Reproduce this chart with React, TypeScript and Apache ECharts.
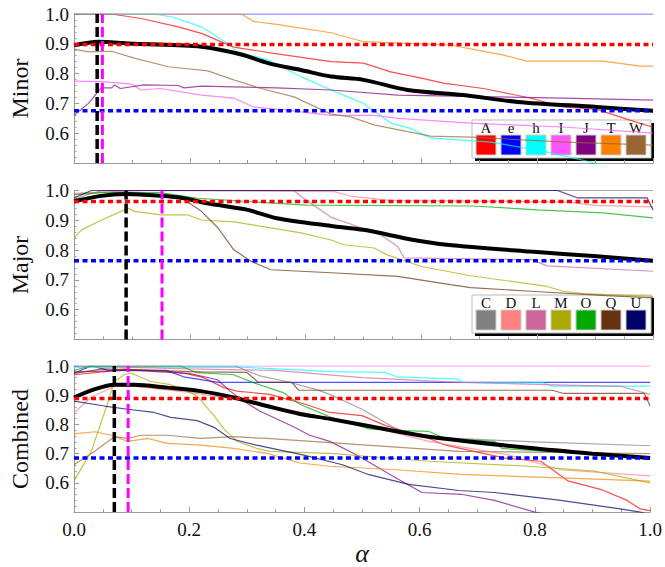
import React, { useEffect, useRef } from 'react';
import * as echarts from 'echarts';

type P = [number, number][];

const FONT = 'Liberation Serif';

// ---------- Minor panel ----------
const minorA: P = [[0,1],[0.065,1],[0.116,0.985],[0.18,0.957],[0.22,0.935],[0.276,0.889],[0.345,0.868],[0.444,0.84],[0.5,0.835],[0.547,0.806],[0.6,0.785],[0.638,0.768],[0.707,0.75],[0.788,0.718],[0.845,0.688],[0.903,0.68],[0.96,0.644],[1,0.62]];
const minorE: P = [[0,1],[1,1]];
const minorH: P = [[0,1],[0.137,1],[0.17,0.99],[0.22,0.957],[0.266,0.9],[0.283,0.873],[0.335,0.846],[0.363,0.818],[0.392,0.79],[0.444,0.745],[0.5,0.7],[0.547,0.634],[0.58,0.617],[0.616,0.584],[0.72,0.57],[0.81,0.54],[0.9,0.5],[1,0.47]];
const minorI: P = [[0,0.775],[0.05,0.773],[0.1,0.765],[0.115,0.745],[0.15,0.75],[0.22,0.728],[0.276,0.718],[0.31,0.688],[0.363,0.678],[0.444,0.66],[0.52,0.66],[0.56,0.65],[0.685,0.634],[0.85,0.62],[1,0.6]];
const minorJ: P = [[0,0.66],[0.025,0.7],[0.047,0.752],[0.065,0.752],[0.07,0.762],[0.08,0.75],[0.12,0.762],[0.18,0.76],[0.19,0.752],[0.22,0.758],[0.35,0.752],[0.444,0.745],[0.559,0.728],[0.845,0.718],[1,0.711]];
const minorT: P = [[0,1],[0.29,1],[0.31,0.975],[0.35,0.965],[0.444,0.937],[0.5,0.907],[0.65,0.896],[0.742,0.862],[0.782,0.842],[0.914,0.842],[0.978,0.825],[1,0.825]];
const minorW: P = [[0,0.882],[0.025,0.873],[0.065,0.875],[0.104,0.852],[0.163,0.823],[0.231,0.809],[0.276,0.779],[0.323,0.75],[0.38,0.722],[0.444,0.664],[0.478,0.655],[0.518,0.628],[0.576,0.605],[0.616,0.59],[0.685,0.587],[0.85,0.57],[1,0.56]];
const minorAvg: P = [[0,0.895],[0.042,0.907],[0.104,0.9],[0.22,0.89],[0.289,0.864],[0.335,0.835],[0.392,0.812],[0.444,0.79],[0.5,0.779],[0.576,0.745],[0.672,0.728],[0.766,0.705],[0.903,0.688],[1,0.675]];

// ---------- Major panel ----------
const majorC: P = [[0,0.97],[0.03,0.99],[0.05,1],[1,1]];
const majorD: P = [[0,0.99],[0.1,1],[0.45,0.996],[0.48,0.98],[0.55,0.966],[0.85,0.962],[0.9,0.95],[1,0.945]];
const majorL: P = [[0,0.99],[0.12,1],[0.38,1],[0.392,0.98],[0.444,0.91],[0.49,0.879],[0.53,0.851],[0.559,0.812],[0.57,0.774],[0.79,0.768],[0.817,0.747],[1,0.729]];
const majorM: P = [[0,0.84],[0.013,0.868],[0.047,0.9],[0.087,0.935],[0.094,0.94],[0.104,0.93],[0.15,0.918],[0.197,0.918],[0.22,0.901],[0.276,0.895],[0.392,0.858],[0.444,0.834],[0.466,0.818],[0.518,0.807],[0.541,0.784],[0.6,0.745],[0.685,0.714],[0.817,0.678],[0.845,0.662],[0.88,0.654],[1,0.645]];
const majorO: P = [[0,0.985],[0.05,0.993],[0.15,0.993],[0.214,0.974],[0.3,0.963],[0.4,0.951],[0.69,0.948],[0.8,0.935],[0.914,0.925],[1,0.908]];
const majorQ: P = [[0,0.97],[0.05,0.985],[0.1,0.99],[0.162,0.98],[0.19,0.97],[0.22,0.93],[0.249,0.874],[0.276,0.801],[0.306,0.762],[0.34,0.734],[0.444,0.724],[0.559,0.712],[0.65,0.684],[0.685,0.674],[0.788,0.662],[0.92,0.647],[1,0.64]];
const majorU: P = [[0,0.975],[0.03,1],[0.835,1],[0.87,0.975],[0.99,0.975],[1,0.935]];
const majorAvg: P = [[0,0.963],[0.047,0.982],[0.09,0.988],[0.15,0.982],[0.19,0.974],[0.23,0.957],[0.3,0.935],[0.35,0.907],[0.444,0.881],[0.5,0.868],[0.587,0.834],[0.644,0.818],[0.788,0.795],[0.903,0.779],[1,0.764]];

// ---------- Combined panel ----------
const combA: P = [[0,0.97],[0.05,0.98],[0.087,0.989],[0.168,0.981],[0.197,0.973],[0.225,0.96],[0.26,0.926],[0.283,0.914],[0.34,0.903],[0.4,0.87],[0.444,0.841],[0.5,0.83],[0.541,0.796],[0.616,0.752],[0.645,0.729],[0.748,0.685],[0.81,0.674],[0.857,0.607],[0.914,0.578],[0.96,0.54],[0.983,0.511],[1,0.505]];
const combE: P = [[0,0.975],[0.03,1],[0.06,0.985],[0.16,0.985],[0.19,0.963],[0.25,0.944],[1,0.944]];
const combH: P = [[0,0.995],[0.3,0.995],[0.39,0.987],[0.444,0.981],[0.54,0.978],[0.56,0.963],[0.667,0.955],[0.675,0.944],[0.815,0.942],[0.83,0.931],[1,0.931]];
const combI: P = [[0,1],[1,1]];
const combJ: P = [[0,0.98],[0.1,0.985],[0.2,0.975],[0.249,0.953],[0.271,0.914],[0.294,0.88],[0.323,0.845],[0.381,0.792],[0.409,0.763],[0.444,0.742],[0.49,0.696],[0.559,0.617],[0.604,0.567],[0.672,0.561],[0.73,0.54],[0.8,0.5],[0.85,0.48]];
const combT: P = [[0,0.768],[0.036,0.775],[0.065,0.763],[0.093,0.742],[0.128,0.752],[0.162,0.735],[0.22,0.729],[0.277,0.718],[0.335,0.701],[0.392,0.668],[0.444,0.657],[0.559,0.645],[0.672,0.629],[0.845,0.617],[1,0.606]];
const combW: P = [[0,0.662],[0.036,0.708],[0.07,0.758],[0.093,0.752],[0.116,0.763],[0.162,0.763],[0.22,0.752],[0.277,0.758],[0.335,0.752],[0.444,0.738],[0.668,0.708],[1,0.7]];
const combC: P = [[0,1],[0.28,1],[0.323,0.966],[0.369,0.947],[0.421,0.919],[0.444,0.903],[0.5,0.852],[0.559,0.785],[0.616,0.757],[0.8,0.74],[1,0.727]];
const combD: P = [[0,0.84],[0.03,0.893],[0.07,0.93],[0.104,0.93],[0.2,0.91],[0.3,0.88],[0.4,0.84],[0.444,0.82],[0.5,0.8],[0.616,0.742],[0.754,0.696],[0.845,0.645],[1,0.624]];
const combL: P = [[0,1],[0.2,0.99],[0.35,0.985],[0.5,0.96],[0.67,0.944],[0.817,0.936],[0.95,0.93],[1,0.903]];
const combM: P = [[0,0.607],[0.03,0.708],[0.059,0.876],[0.07,0.947],[0.087,0.97],[0.099,0.976],[0.133,0.947],[0.168,0.936],[0.197,0.914],[0.214,0.897],[0.243,0.83],[0.26,0.785],[0.283,0.742],[0.317,0.718],[0.34,0.708],[0.444,0.701],[0.616,0.674],[0.788,0.657],[0.903,0.64],[1,0.6]];
const combO: P = [[0,0.985],[0.03,1],[0.185,1],[0.214,0.977],[0.277,0.97],[0.311,0.943],[0.363,0.909],[0.392,0.869],[0.444,0.826],[0.512,0.785],[0.559,0.78],[0.616,0.776],[0.645,0.752],[0.73,0.742],[0.742,0.718],[0.874,0.701],[1,0.685]];
const combQ: P = [[0,0.975],[0.05,0.99],[0.22,0.98],[0.3,0.978],[0.32,0.944],[0.378,0.944],[0.39,0.917],[0.83,0.917],[0.85,0.906],[0.99,0.906],[1,0.863]];
const combU: P = [[0,0.88],[0.053,0.863],[0.093,0.852],[0.139,0.841],[0.168,0.824],[0.214,0.813],[0.243,0.79],[0.271,0.752],[0.317,0.729],[0.397,0.696],[0.466,0.662],[0.512,0.628],[0.581,0.595],[0.668,0.574],[0.73,0.567],[0.845,0.54],[0.948,0.511],[0.983,0.5],[1,0.49]];
const combAvg: P = [[0,0.892],[0.035,0.92],[0.07,0.936],[0.104,0.936],[0.162,0.926],[0.22,0.914],[0.277,0.892],[0.335,0.863],[0.392,0.836],[0.444,0.819],[0.55,0.78],[0.616,0.758],[0.788,0.72],[0.9,0.7],[1,0.685]];

// thresholds per panel: [Minor, Major, Combined]
const redLevel = [0.898, 0.963, 0.889];
const blueLevel = [0.675, 0.764, 0.685];
const blackAlpha = [0.04, 0.09, 0.07];
const magentaAlpha = [0.049, 0.152, 0.094];

const panelNames = ['Minor', 'Major', 'Combined'];
const xTickLabels = ['0.0', '0.2', '0.4', '0.6', '0.8', '1.0'];

const legend1 = ['A', 'e', 'h', 'I', 'J', 'T', 'W'];
const legend2 = ['C', 'D', 'L', 'M', 'O', 'Q', 'U'];
const colors: Record<string, string> = {
  A: '#ff0000', e: '#0000ff', h: '#00ffff', I: '#ff55ff', J: '#800080', T: '#ff8000', W: '#996633',
  C: '#808080', D: '#ff8080', L: '#cc6699', M: '#aaaa00', O: '#00aa00', Q: '#663311', U: '#000066',
};

const minorSeries: [string, P][] = [['A', minorA], ['e', minorE], ['h', minorH], ['I', minorI], ['J', minorJ], ['T', minorT], ['W', minorW]];
const majorSeries: [string, P][] = [['C', majorC], ['D', majorD], ['L', majorL], ['M', majorM], ['O', majorO], ['Q', majorQ], ['U', majorU]];
const combSeries: [string, P][] = [['A', combA], ['e', combE], ['h', combH], ['I', combI], ['J', combJ], ['T', combT], ['W', combW], ['C', combC], ['D', combD], ['L', combL], ['M', combM], ['O', combO], ['Q', combQ], ['U', combU]];
const avgs: P[] = [minorAvg, majorAvg, combAvg];

const gridTops = [14, 190.5, 366];
const gridH = 149;

function buildOption() {
  const grids = gridTops.map((t) => ({ left: 72.5, right: 12, top: t, height: gridH }));
  const axisColor = '#9a9a9a';
  const xAxes = [0, 1, 2].map((gi) => ({
    type: 'value', gridIndex: gi, min: 0, max: 1, interval: 0.2,
    axisLine: { show: true, onZero: false, lineStyle: { color: axisColor, width: 1 } },
    axisTick: { show: true, inside: true, length: 5, lineStyle: { color: axisColor } },
    minorTick: { show: true, splitNumber: 4, length: 3, lineStyle: { color: axisColor } },
    splitLine: { show: false },
    axisLabel: {
      show: gi === 2, fontFamily: FONT, fontSize: 19, color: '#111', margin: 8,
      formatter: (v: number) => xTickLabels[Math.round(v / 0.2)] ?? '',
    },
    name: gi === 2 ? 'α' : '',
    nameLocation: 'middle', nameGap: 24,
    nameTextStyle: { fontFamily: FONT, fontSize: 26, fontStyle: 'italic', color: '#111' },
  }));
  const yAxes = [0, 1, 2].map((gi) => ({
    type: 'value', gridIndex: gi, min: 0.5, max: 1.0, interval: 0.1,
    axisLine: { show: true, onZero: false, lineStyle: { color: axisColor, width: 1 } },
    axisTick: { show: true, inside: true, length: 5, lineStyle: { color: axisColor } },
    minorTick: { show: true, splitNumber: 5, length: 2.5, lineStyle: { color: axisColor } },
    splitLine: { show: false },
    axisLabel: {
      fontFamily: FONT, fontSize: 19, color: '#111', margin: 5,
      formatter: (v: number) => (v < 0.55 ? '' : v.toFixed(1)),
    },
    name: panelNames[gi], nameLocation: 'middle', nameGap: 42, nameRotate: 90,
    nameTextStyle: { fontFamily: FONT, fontSize: 24, color: '#111' },
  }));

  const series: any[] = [];
  const addThin = (gi: number, list: [string, P][]) => {
    list.forEach(([k, d]) => {
      series.push({
        type: 'line', name: k + gi, xAxisIndex: gi, yAxisIndex: gi, data: d,
        symbol: 'none', silent: true, clip: true, z: 2,
        lineStyle: { color: colors[k], width: 1.2, opacity: 0.7 },
      });
    });
  };
  addThin(0, minorSeries);
  addThin(1, majorSeries);
  addThin(2, combSeries);
  [0, 1, 2].forEach((gi) => {
    series.push({
      type: 'line', name: 'avg' + gi, xAxisIndex: gi, yAxisIndex: gi, data: avgs[gi],
      symbol: 'none', silent: true, z: 3, smooth: 0.3,
      lineStyle: { color: '#000', width: 4 },
    });
    series.push({
      type: 'line', name: 'red' + gi, xAxisIndex: gi, yAxisIndex: gi,
      data: [[0, redLevel[gi]], [1, redLevel[gi]]], symbol: 'none', silent: true, z: 4,
      lineStyle: { color: '#ff0000', width: 3.5, type: [5, 3.5] },
    });
    series.push({
      type: 'line', name: 'blue' + gi, xAxisIndex: gi, yAxisIndex: gi,
      data: [[0, blueLevel[gi]], [1, blueLevel[gi]]], symbol: 'none', silent: true, z: 4,
      lineStyle: { color: '#0000ff', width: 3.5, type: [5, 3.5] },
    });
    series.push({
      type: 'line', name: 'vmag' + gi, xAxisIndex: gi, yAxisIndex: gi,
      data: [[magentaAlpha[gi], 0.5], [magentaAlpha[gi], 1.0]], symbol: 'none', silent: true, z: 5,
      lineStyle: { color: '#ff00ff', width: 3, type: [10, 4] },
    });
    series.push({
      type: 'line', name: 'vblk' + gi, xAxisIndex: gi, yAxisIndex: gi,
      data: [[blackAlpha[gi], 0.5], [blackAlpha[gi], 1.0]], symbol: 'none', silent: true, z: 5,
      lineStyle: { color: '#000', width: 3.5, type: [10, 4] },
    });
  });

  const legendBox = (keys: string[], x: number, y: number) => {
    const children: any[] = [
      { type: 'rect', shape: { x: x + 3, y: y + 3, width: 179, height: 38 }, style: { fill: '#000' } },
      { type: 'rect', shape: { x, y, width: 179, height: 38 }, style: { fill: '#fff', stroke: '#bbb', lineWidth: 1 } },
    ];
    keys.forEach((k, i) => {
      children.push({
        type: 'text', x: x + 14 + 25 * i, y: y + 8,
        style: { text: k, fontFamily: FONT, fontSize: 15, fill: '#111', align: 'center', verticalAlign: 'middle' },
      });
      children.push({
        type: 'rect', shape: { x: x + 4 + 25 * i, y: y + 15, width: 20, height: 20 },
        style: { fill: colors[k], stroke: '#ccc', lineWidth: 1 },
      });
    });
    return { type: 'group', z: 20, silent: true, children };
  };

  return {
    animation: false,
    backgroundColor: '#fff',
    textStyle: { fontFamily: FONT },
    grid: grids,
    xAxis: xAxes,
    yAxis: yAxes,
    series,
    graphic: [legendBox(legend1, 472, 120), legendBox(legend2, 472, 295)],
  };
}

export default function App() {
  const ref = useRef<HTMLDivElement>(null);
  useEffect(() => {
    if (!ref.current) return;
    const chart = echarts.init(ref.current, undefined, { renderer: 'svg' });
    chart.setOption(buildOption() as any);
    return () => chart.dispose();
  }, []);
  return <div ref={ref} style={{ position: 'fixed', left: 0, top: 0, width: 665, height: 567, background: '#fff' }} />;
}
